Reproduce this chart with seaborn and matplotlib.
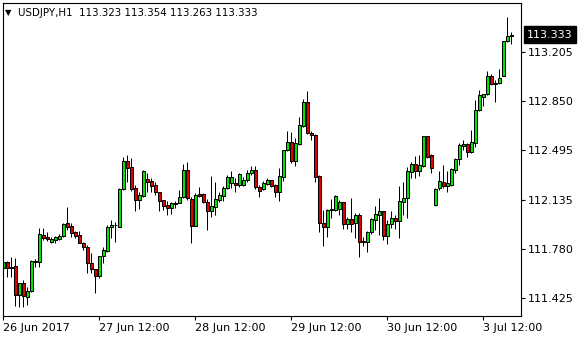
import matplotlib
matplotlib.use("Agg")
import numpy as np
import pandas as pd
import seaborn as sns
import matplotlib.pyplot as plt
from matplotlib.transforms import blended_transform_factory

symbol = "USDJPY,H1"

opens = [111.641, 111.685, 111.648, 111.656, 111.445, 111.532, 111.431, 111.474, 111.692, 111.685,
         111.880, 111.866, 111.829, 111.844, 111.851, 111.873, 111.967, 111.945, 111.902, 111.880,
         111.822, 111.793, 111.677, 111.634, 111.583, 111.728, 111.764, 111.938, 111.953, 111.938,
         112.214, 112.417, 112.373, 112.221, 112.134, 112.163, 112.286, 112.272, 112.243, 112.192,
         112.134, 112.098, 112.076, 112.112, 112.112, 112.156, 112.352, 112.141, 111.945, 112.178,
         112.178, 112.119, 112.054, 112.083, 112.134, 112.163, 112.221, 112.257, 112.257, 112.243,
         112.243, 112.279, 112.330, 112.352, 112.228, 112.214, 112.250, 112.279, 112.243, 112.192,
         112.301, 112.497, 112.555, 112.417, 112.540, 112.671, 112.845, 112.620, 112.605, 112.308,
         111.967, 111.938, 112.061, 112.061, 112.069, 112.119, 111.960, 111.996, 111.967, 112.025,
         111.837, 111.829, 111.902, 111.989, 112.025, 112.054, 111.873, 111.960, 112.004, 111.982,
         112.119, 112.149, 112.337, 112.395, 112.344, 112.381, 112.598, 112.460, 112.098, 112.221,
         112.265, 112.236, 112.243, 112.352, 112.431, 112.526, 112.540, 112.482, 112.547, 112.787,
         112.881, 112.902, 113.033, 112.975, 112.982, 113.033, 113.287, 113.323]

highs = [111.692, 111.692, 111.721, 111.714, 111.532, 111.554, 111.503, 111.699, 111.706, 111.931,
         111.931, 111.902, 111.866, 111.873, 111.888, 111.967, 112.083, 111.967, 111.909, 111.909,
         111.829, 111.808, 111.750, 111.634, 111.728, 111.793, 111.953, 111.989, 111.974, 112.221,
         112.446, 112.460, 112.439, 112.243, 112.192, 112.352, 112.330, 112.294, 112.265, 112.192,
         112.134, 112.127, 112.119, 112.127, 112.207, 112.395, 112.410, 112.156, 112.185, 112.228,
         112.185, 112.141, 112.308, 112.265, 112.192, 112.236, 112.315, 112.344, 112.294, 112.330,
         112.301, 112.352, 112.381, 112.381, 112.243, 112.272, 112.294, 112.279, 112.250, 112.366,
         112.497, 112.634, 112.627, 112.584, 112.736, 112.866, 112.924, 112.634, 112.613, 112.315,
         112.061, 112.069, 112.141, 112.170, 112.134, 112.119, 112.011, 112.149, 112.040, 112.040,
         111.866, 111.909, 112.004, 112.091, 112.149, 112.054, 111.989, 112.054, 112.025, 112.236,
         112.265, 112.373, 112.410, 112.453, 112.460, 112.598, 112.598, 112.468, 112.221, 112.344,
         112.388, 112.344, 112.366, 112.439, 112.547, 112.569, 112.547, 112.642, 112.859, 112.932,
         112.902, 113.069, 113.048, 113.004, 113.084, 113.287, 113.461, 113.354]

lows = [111.634, 111.576, 111.576, 111.366, 111.358, 111.358, 111.373, 111.467, 111.648, 111.648,
        111.844, 111.837, 111.822, 111.822, 111.844, 111.866, 111.917, 111.866, 111.859, 111.822,
        111.771, 111.605, 111.605, 111.460, 111.568, 111.677, 111.757, 111.859, 111.829, 111.938,
        112.207, 112.265, 112.199, 112.054, 112.069, 112.156, 112.192, 112.192, 112.170, 112.054,
        112.061, 112.025, 112.033, 112.076, 112.112, 112.149, 112.134, 111.822, 111.945, 112.156,
        112.112, 111.917, 112.011, 112.025, 112.119, 112.127, 112.214, 112.221, 112.192, 112.228,
        112.236, 112.265, 112.315, 112.214, 112.156, 112.207, 112.243, 112.228, 112.156, 112.127,
        112.272, 112.489, 112.402, 112.381, 112.533, 112.663, 112.613, 112.569, 112.265, 111.902,
        111.801, 111.866, 112.004, 112.054, 112.025, 111.924, 111.924, 111.902, 111.859, 111.721,
        111.801, 111.757, 111.888, 111.917, 111.880, 111.844, 111.815, 111.931, 111.924, 111.859,
        112.025, 112.004, 112.294, 112.294, 112.308, 112.373, 112.439, 112.330, 112.091, 112.207,
        112.221, 112.192, 112.236, 112.330, 112.388, 112.497, 112.446, 112.475, 112.518, 112.779,
        112.816, 112.895, 112.968, 112.845, 112.975, 113.033, 113.280, 113.263]

closes = [111.685, 111.641, 111.641, 111.445, 111.532, 111.438, 111.474, 111.692, 111.685, 111.888,
          111.859, 111.851, 111.851, 111.866, 111.873, 111.960, 111.938, 111.895, 111.873, 111.822,
          111.793, 111.677, 111.634, 111.583, 111.728, 111.771, 111.938, 111.953, 111.956, 112.214,
          112.417, 112.366, 112.214, 112.134, 112.170, 112.344, 112.265, 112.236, 112.192, 112.127,
          112.091, 112.076, 112.112, 112.105, 112.156, 112.352, 112.149, 111.945, 112.170, 112.163,
          112.119, 112.054, 112.091, 112.141, 112.170, 112.221, 112.301, 112.301, 112.243, 112.323,
          112.279, 112.330, 112.352, 112.228, 112.199, 112.257, 112.279, 112.236, 112.192, 112.308,
          112.497, 112.555, 112.417, 112.547, 112.678, 112.845, 112.620, 112.605, 112.301, 111.967,
          111.938, 112.061, 112.069, 112.163, 112.119, 111.960, 111.996, 111.960, 112.025, 111.829,
          111.829, 111.902, 111.996, 112.033, 112.054, 111.873, 111.960, 112.004, 111.982, 112.127,
          112.149, 112.344, 112.395, 112.344, 112.388, 112.598, 112.446, 112.366, 112.214, 112.272,
          112.236, 112.257, 112.359, 112.431, 112.533, 112.540, 112.482, 112.555, 112.787, 112.895,
          112.902, 113.033, 112.975, 112.982, 113.019, 113.287, 113.323, 113.333]

xtick_bars = [0, 24, 48, 72, 96, 120]
xtick_labels = ["26 Jun 2017", "27 Jun 12:00", "28 Jun 12:00", "29 Jun 12:00", "30 Jun 12:00", "3 Jul 12:00"]
ytick_values = [111.425, 111.780, 112.135, 112.495, 112.850, 113.205]

df = pd.DataFrame({"open": opens, "high": highs, "low": lows, "close": closes})
df["bar"] = np.arange(len(df))
df["bull"] = df["close"] >= df["open"]

sns.set_style("white")
plt.rcParams["font.family"] = ["DejaVu Sans"]

W, H = 580, 340
fig = plt.figure(figsize=(W / 100, H / 100), dpi=100)
fig.patch.set_facecolor("white")
ax = fig.add_axes([3 / W, 24 / H, 518 / W, 313 / H])
ax.set_facecolor("white")

bull_col = "#00E400"
bear_col = "#E00000"

# wicks
ax.vlines(df["bar"], df["low"], df["high"], color="black", linewidth=0.72, zorder=1)
# bodies
body_h = (df["close"] - df["open"]).to_numpy()
body_h = np.where(np.abs(body_h) < 1e-6, 1e-5, body_h)
ax.bar(df["bar"], body_h, bottom=df["open"], width=0.62,
       color=np.where(df["bull"], bull_col, bear_col),
       edgecolor="black", linewidth=0.72, zorder=2)

ax.set_xlim(-0.08, 129.4)
ax.set_ylim(111.293, 113.562)

for s in ax.spines.values():
    s.set_color("black")
    s.set_linewidth(0.8)
    s.set_visible(True)

ax.yaxis.tick_right()
ax.set_yticks(ytick_values)
ax.set_yticklabels([f"{v:.3f}" for v in ytick_values])
ax.set_xticks(xtick_bars)
ax.set_xticklabels(xtick_labels)
for lab in ax.get_xticklabels():
    lab.set_horizontalalignment("left")
ax.tick_params(axis="y", which="both", right=True, left=False, direction="out",
               length=3, width=0.8, colors="black", labelsize=8, pad=2)
ax.tick_params(axis="x", which="both", bottom=True, direction="out",
               length=3, width=0.8, colors="black", labelsize=8, pad=2)
ax.grid(False)

# current price label
last = closes[-1]
trans = blended_transform_factory(ax.transAxes, ax.transData)
ax.text(1.012, last, f"{last:.3f}", transform=trans, ha="left", va="center",
        fontsize=8, color="white",
        bbox=dict(boxstyle="square,pad=0.28", facecolor="black", edgecolor="black"),
        zorder=5, clip_on=False)

# title
fig.text(5 / W, 1 - 12.5 / H, "\u25BC", fontsize=6, va="center", ha="left", color="black")
title = f"{symbol}  {opens[-1]:.3f} {highs[-1]:.3f} {lows[-1]:.3f} {closes[-1]:.3f}"
fig.text(18 / W, 1 - 12.5 / H, title, fontsize=7.4, va="center", ha="left", color="black")

fig.savefig("out.png", dpi=100, facecolor="white")
